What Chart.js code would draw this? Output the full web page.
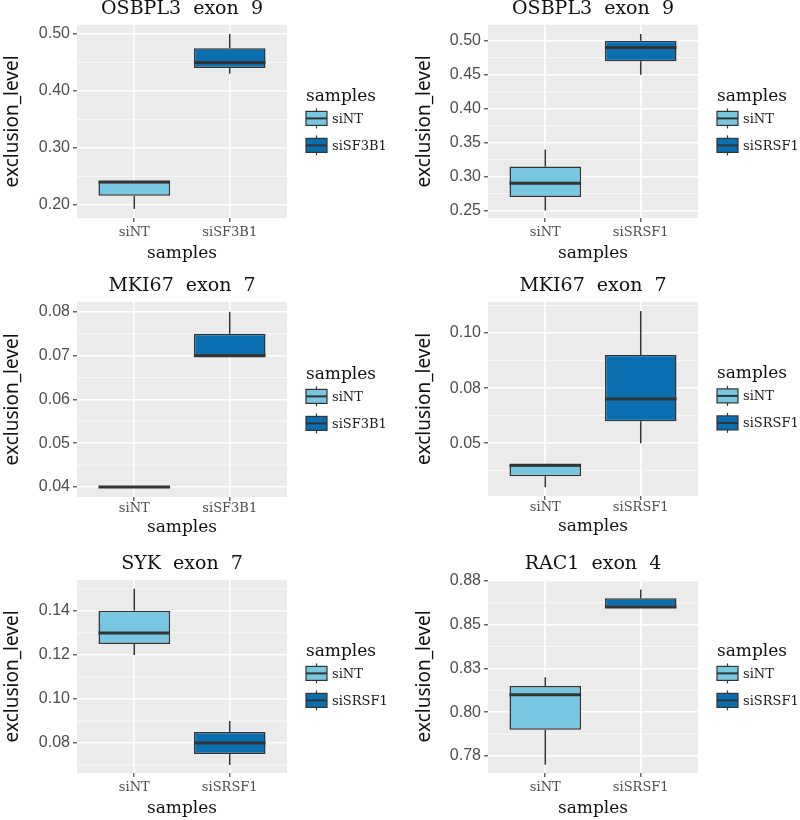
<!DOCTYPE html>
<html>
<head>
<meta charset="utf-8">
<script src="https://cdn.jsdelivr.net/npm/chart.js@4.4.0/dist/chart.umd.min.js"></script>
<style>
  body { margin: 0; background: #fff; width: 800px; height: 820px; position: relative; overflow: hidden; }
  canvas { position: absolute; }
</style>
</head>
<body>
<script>
// Data (one entry per panel, left-to-right, top-to-bottom)
const panelTitles = ['OSBPL3  exon  9', 'OSBPL3  exon  9', 'MKI67  exon  7', 'MKI67  exon  7', 'SYK  exon  7', 'RAC1  exon  4'];
const categories = [
  ['siNT', 'siSF3B1'], ['siNT', 'siSRSF1'],
  ['siNT', 'siSF3B1'], ['siNT', 'siSRSF1'],
  ['siNT', 'siSRSF1'], ['siNT', 'siSRSF1']
];
const whiskerLow = [[0.193, 0.43], [0.25, 0.45], [0.04, 0.07], [0.03, 0.05], [0.12, 0.07], [0.770, 0.86]];
const q1 = [[0.216, 0.44], [0.27, 0.47], [0.04, 0.07], [0.035, 0.06], [0.125, 0.075], [0.79, 0.86]];
const median = [[0.24, 0.45], [0.29, 0.49], [0.04, 0.07], [0.04, 0.07], [0.13, 0.08], [0.81, 0.86]];
const q3 = [[0.24, 0.475], [0.315, 0.50], [0.04, 0.075], [0.04, 0.09], [0.14, 0.085], [0.815, 0.865]];
const whiskerHigh = [[0.24, 0.50], [0.34, 0.51], [0.04, 0.08], [0.04, 0.11], [0.15, 0.09], [0.82, 0.870]];
const yTicks = [
  [0.2, 0.3, 0.4, 0.5],
  [0.25, 0.3, 0.35, 0.4, 0.45, 0.5],
  [0.04, 0.05, 0.06, 0.07, 0.08],
  [0.05, 0.075, 0.1],
  [0.08, 0.1, 0.12, 0.14],
  [0.775, 0.8, 0.825, 0.85, 0.875]
];
const yTickLabels = [
  ['0.20', '0.30', '0.40', '0.50'],
  ['0.25', '0.30', '0.35', '0.40', '0.45', '0.50'],
  ['0.04', '0.05', '0.06', '0.07', '0.08'],
  ['0.05', '0.08', '0.10'],
  ['0.08', '0.10', '0.12', '0.14'],
  ['0.78', '0.80', '0.83', '0.85', '0.88']
];
const yLimits = [[0.177, 0.516], [0.239, 0.5235], [0.0377, 0.0823], [0.026, 0.1142], [0.0664, 0.1541], [0.7653, 0.8756]];
const xTitle = 'samples';
const yTitle = 'exclusion_level';
const legendTitle = 'samples';

// Look
const boxColors = ['#78C7E2', '#0A6FB1'];
const lineColor = '#333333';

// Where each panel sits on the page
const panelLayout = [
  { left: 0,   top: -3,  height: 267, yWidth: 77, yTitlePad: 1.6,  right: 113, tickPad: 3, xTitlePad: 0 },
  { left: 400, top: -3,  height: 267, yWidth: 88, yTitlePad: 13.6, right: 102, tickPad: 3, xTitlePad: 0 },
  { left: 0,   top: 274, height: 264, yWidth: 77, yTitlePad: 1.6,  right: 113, tickPad: 0, xTitlePad: 1 },
  { left: 400, top: 274, height: 263, yWidth: 88, yTitlePad: 13.6, right: 102, tickPad: 0, xTitlePad: 1 },
  { left: 0,   top: 552, height: 267, yWidth: 77, yTitlePad: 1.6,  right: 113, tickPad: 3, xTitlePad: 0 },
  { left: 400, top: 552, height: 267, yWidth: 88, yTitlePad: 13.6, right: 102, tickPad: 3, xTitlePad: 0 }
];

// gray panel + minor grid lines
const panelBackground = {
  id: 'panelBackground',
  beforeDraw(chart) {
    const { ctx, chartArea: a, scales: { y } } = chart;
    const p = chart.options.plugins.panelBackground.panel;
    ctx.save();
    ctx.fillStyle = '#EBEBEB';
    ctx.fillRect(a.left, a.top, a.width, a.height);
    const t = yTicks[p];
    const step = t[1] - t[0];
    const minors = [t[0] - step / 2];
    for (let i = 0; i < t.length - 1; i++) minors.push((t[i] + t[i + 1]) / 2);
    minors.push(t[t.length - 1] + step / 2);
    ctx.strokeStyle = 'rgba(255,255,255,0.85)';
    ctx.lineWidth = 0.8;
    minors.forEach(v => {
      if (v < y.min || v > y.max) return;
      const py = y.getPixelForValue(v);
      ctx.beginPath();
      ctx.moveTo(a.left, py);
      ctx.lineTo(a.right, py);
      ctx.stroke();
    });
    ctx.restore();
  }
};

// whiskers, medians and the ggplot-like legend
const boxplotParts = {
  id: 'boxplotParts',
  afterDatasetsDraw(chart) {
    const { ctx, scales: { x, y } } = chart;
    const p = chart.options.plugins.boxplotParts.panel;
    const bars = chart.getDatasetMeta(0).data;
    ctx.save();
    ctx.strokeStyle = lineColor;
    categories[p].forEach((c, i) => {
      const px = x.getPixelForValue(i + 1);
      ctx.lineWidth = 1.5;
      ctx.beginPath();
      ctx.moveTo(px, y.getPixelForValue(q3[p][i]));
      ctx.lineTo(px, y.getPixelForValue(whiskerHigh[p][i]));
      ctx.moveTo(px, y.getPixelForValue(q1[p][i]));
      ctx.lineTo(px, y.getPixelForValue(whiskerLow[p][i]));
      ctx.stroke();
      const w = bars[i].width;
      ctx.lineWidth = 3;
      ctx.beginPath();
      const my = y.getPixelForValue(median[p][i]);
      ctx.moveTo(px - w / 2, my);
      ctx.lineTo(px + w / 2, my);
      ctx.stroke();
    });
    ctx.restore();
  },
  afterDraw(chart) {
    const { ctx, chartArea: a } = chart;
    const p = chart.options.plugins.boxplotParts.panel;
    const lx = a.right + 19;
    const cy = (a.top + a.bottom) / 2;
    ctx.save();
    ctx.textBaseline = 'middle';
    ctx.textAlign = 'left';
    ctx.fillStyle = '#111';
    ctx.font = '17px "DejaVu Serif"';
    ctx.fillText(legendTitle, lx, cy - 25);
    categories[p].forEach((c, i) => {
      const ky = cy - 3 + i * 27;
      ctx.strokeStyle = lineColor;
      ctx.lineWidth = 1.2;
      ctx.beginPath();
      ctx.moveTo(lx + 10.5, ky - 10);
      ctx.lineTo(lx + 10.5, ky + 10);
      ctx.stroke();
      ctx.fillStyle = boxColors[i];
      ctx.fillRect(lx, ky - 7, 21, 14);
      ctx.strokeRect(lx, ky - 7, 21, 14);
      ctx.lineWidth = 2;
      ctx.beginPath();
      ctx.moveTo(lx, ky);
      ctx.lineTo(lx + 21, ky);
      ctx.stroke();
      ctx.fillStyle = '#1a1a1a';
      ctx.font = '13px "DejaVu Serif"';
      ctx.fillText(c, lx + 26, ky + 1);
    });
    ctx.restore();
  }
};

panelTitles.forEach((title, p) => {
  const L = panelLayout[p];
  const canvas = document.createElement('canvas');
  canvas.width = 400;
  canvas.height = L.height;
  canvas.style.left = L.left + 'px';
  canvas.style.top = L.top + 'px';
  document.body.appendChild(canvas);

  new Chart(canvas.getContext('2d'), {
    type: 'bar',
    data: {
      datasets: [{
        data: categories[p].map((c, i) => ({ x: i + 1, y: [q1[p][i], q3[p][i]] })),
        backgroundColor: categories[p].map((c, i) => boxColors[i]),
        borderColor: lineColor,
        borderWidth: 1.5,
        borderSkipped: false,
        categoryPercentage: 1,
        barPercentage: 0.75
      }]
    },
    options: {
      responsive: false,
      animation: false,
      events: [],
      layout: { padding: { left: 0, right: L.right, top: 0, bottom: 0 } },
      plugins: {
        legend: { display: false },
        tooltip: { enabled: false },
        title: {
          display: true,
          text: title,
          fullSize: false,
          color: '#111',
          font: { family: 'DejaVu Serif', size: 19, weight: 'normal' },
          padding: { top: 1, bottom: 4 }
        },
        panelBackground: { panel: p },
        boxplotParts: { panel: p }
      },
      scales: {
        x: {
          type: 'linear',
          min: 0.4,
          max: 2.6,
          offset: false,
          afterBuildTicks: scale => { scale.ticks = categories[p].map((c, i) => ({ value: i + 1 })); },
          ticks: {
            autoSkip: false,
            maxRotation: 0,
            padding: L.tickPad,
            color: '#4D4D4D',
            font: { family: 'DejaVu Serif', size: 13 },
            callback: (v, i) => categories[p][i]
          },
          grid: { color: '#FFFFFF', lineWidth: 1.6, offset: false, tickLength: 4, tickColor: lineColor, tickWidth: 1.1 },
          border: { display: false },
          title: {
            display: true,
            text: xTitle,
            color: '#111',
            font: { family: 'DejaVu Serif', size: 17 },
            padding: { top: L.xTitlePad, bottom: 0 }
          }
        },
        y: {
          min: yLimits[p][0],
          max: yLimits[p][1],
          beginAtZero: false,
          afterFit: scale => { scale.width = L.yWidth; },
          afterBuildTicks: scale => { scale.ticks = yTicks[p].map(v => ({ value: v })); },
          ticks: {
            autoSkip: false,
            padding: 3,
            color: '#4D4D4D',
            font: { family: 'Liberation Sans', size: 16 },
            callback: (v, i) => yTickLabels[p][i]
          },
          grid: { color: '#FFFFFF', lineWidth: 1.6, tickLength: 4, tickColor: lineColor, tickWidth: 1.1 },
          border: { display: false },
          title: {
            display: true,
            text: yTitle,
            color: '#111',
            font: { family: 'Noto Sans', size: 19 },
            padding: { top: L.yTitlePad, bottom: 0 }
          }
        }
      }
    },
    plugins: [panelBackground, boxplotParts]
  });
});
</script>
</body>
</html>
